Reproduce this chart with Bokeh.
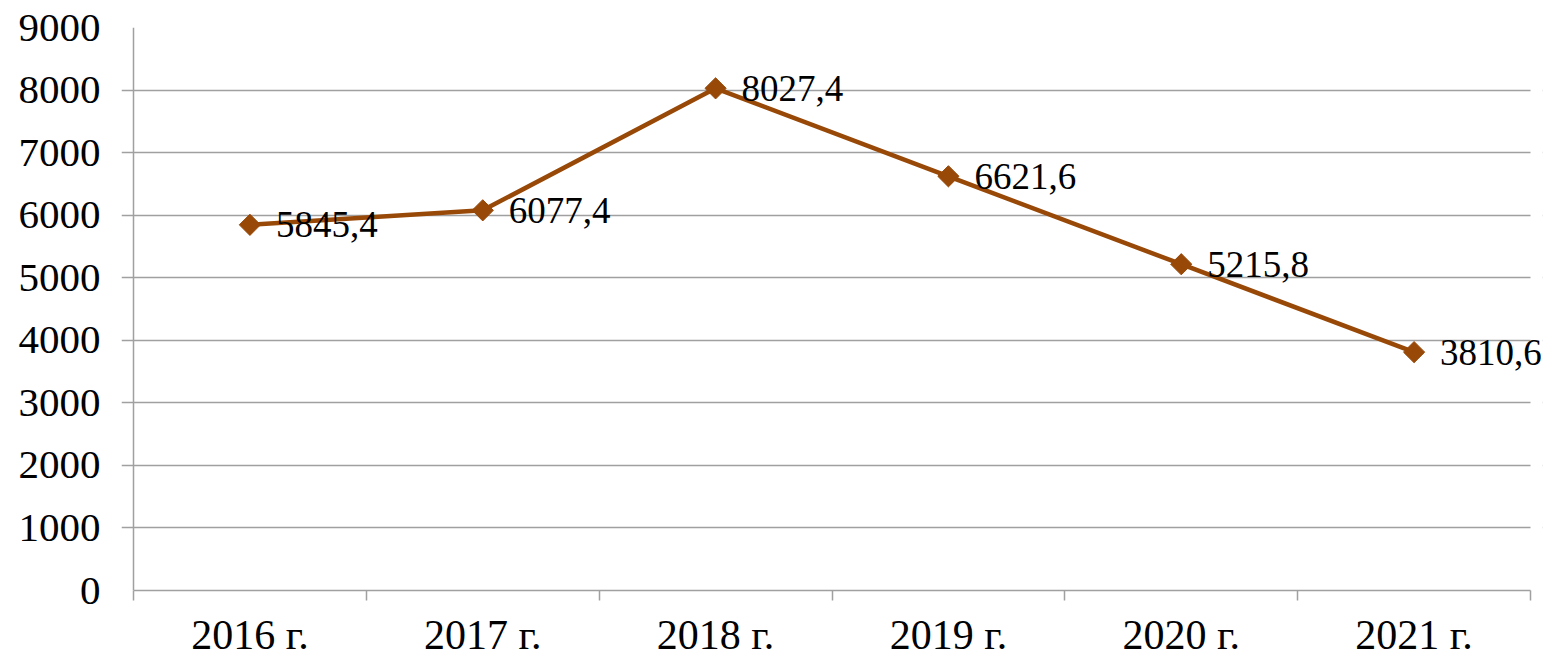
import math
from bokeh.plotting import figure
from bokeh.models import (FactorRange, Range1d, LinearAxis, CategoricalAxis, FixedTicker,
                          ColumnDataSource, LabelSet, Grid, BoxAnnotation)
from bokeh.embed import file_html
from bokeh.resources import INLINE

categories = ["2016 г.", "2017 г.", "2018 г.", "2019 г.", "2020 г.", "2021 г."]
values = [5845.4, 6077.4, 8027.4, 6621.6, 5215.8, 3810.6]
value_labels = ["5845,4", "6077,4", "8027,4", "6621,6", "5215,8", "3810,6"]
y_ticks = [0, 1000, 2000, 3000, 4000, 5000, 6000, 7000, 8000, 9000]

FONT = "Liberation Serif"
GRAY = "#a0a0a0"
BROWN = "#984807"

src = ColumnDataSource(dict(x=categories, y=values, lab=value_labels))
n = len(categories)

# a little padding on both sides of the factor range: on the left it forms the
# gridline "ticks" past the axis, on the right it leaves room for the last label
x_range = FactorRange(*categories, range_padding=0.0515, range_padding_units="absolute")

p = figure(width=1548, height=660,
           x_range=x_range, y_range=Range1d(0, 9000),
           output_backend="svg", toolbar_location=None,
           x_axis_location=None, y_axis_location="left",
           min_border_left=121, min_border_right=6,
           min_border_top=27, min_border_bottom=67)
p.outline_line_color = None
p.xgrid.visible = False
p.ygrid.ticker = FixedTicker(ticks=y_ticks)
p.ygrid.grid_line_color = GRAY
p.ygrid.grid_line_width = 1.5

# vertical axis line at the left edge of the first category
p.add_layout(Grid(dimension=0, ticker=FixedTicker(ticks=[0]),
                  grid_line_color=GRAY, grid_line_width=1.5))

# white cover to the right of the last category so gridlines stop there
p.add_layout(BoxAnnotation(left=n, fill_color="white", fill_alpha=1.0,
                           line_color=None, level="glyph"))

ya = p.yaxis[0]
ya.ticker = FixedTicker(ticks=y_ticks)
ya.axis_line_color = None
ya.major_tick_line_color = None
ya.major_tick_out = 0
ya.major_tick_in = 0
ya.minor_tick_line_color = None
ya.major_label_text_font = FONT
ya.major_label_text_font_size = "41px"
ya.major_label_text_color = "black"
ya.major_label_standoff = 21

bounds = list(range(n + 1))
tick_axis = LinearAxis(ticker=FixedTicker(ticks=bounds), bounds=(0, n))
tick_axis.major_label_overrides = {b: "" for b in bounds}
tick_axis.major_label_text_font_size = "10px"
tick_axis.major_label_standoff = 0
tick_axis.major_tick_out = 10
tick_axis.major_tick_in = 0
tick_axis.major_tick_line_color = GRAY
tick_axis.major_tick_line_width = 1.5
tick_axis.minor_tick_line_color = None
tick_axis.axis_line_color = GRAY
tick_axis.axis_line_width = 1.5
p.add_layout(tick_axis, "below")

cat_axis = CategoricalAxis()
cat_axis.major_tick_line_color = None
cat_axis.major_tick_out = 0
cat_axis.major_tick_in = 0
cat_axis.axis_line_color = None
cat_axis.major_label_text_font = FONT
cat_axis.major_label_text_font_size = "42px"
cat_axis.major_label_text_color = "black"
cat_axis.major_label_standoff = 11
p.add_layout(cat_axis, "below")

p.line("x", "y", source=src, line_color=BROWN, line_width=4.5)
p.scatter("x", "y", source=src, marker="square", angle=math.pi / 4, size=15,
          fill_color=BROWN, line_color=BROWN)

labels = LabelSet(x="x", y="y", text="lab", source=src, x_offset=26,
                  text_align="left", text_baseline="middle",
                  text_font=FONT, text_font_size="37px", text_color="black")
p.add_layout(labels)

open("out.html", "w").write(file_html(p, INLINE))
